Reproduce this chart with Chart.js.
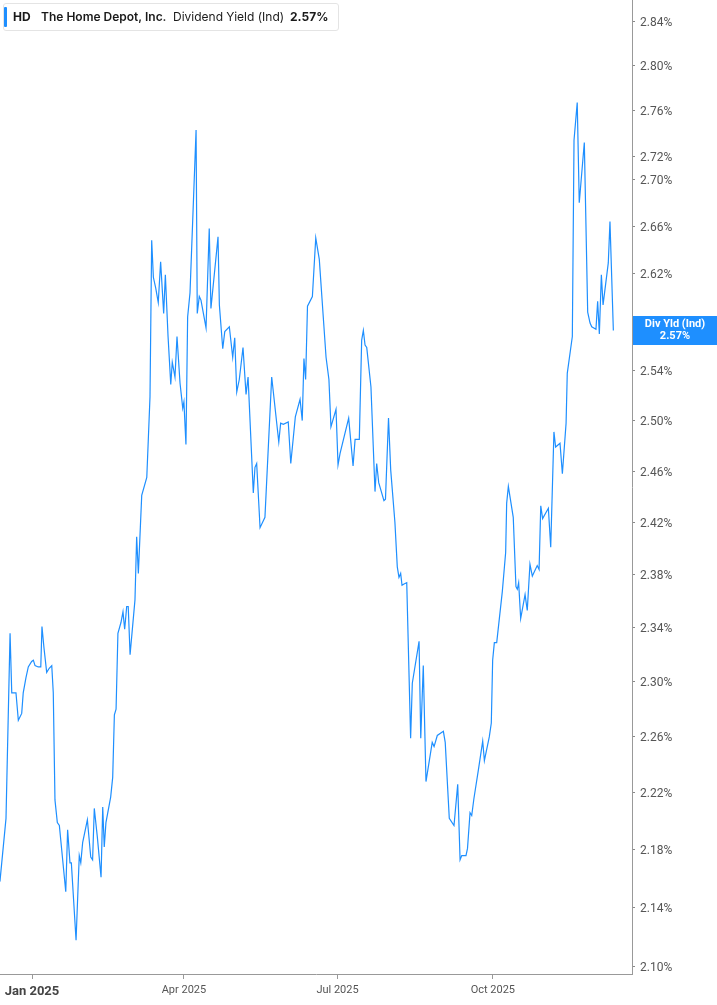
<!DOCTYPE html>
<html>
<head>
<meta charset="utf-8">
<script src="https://cdn.jsdelivr.net/npm/chart.js@4.4.1/dist/chart.umd.min.js"></script>
<style>
  html, body { margin: 0; padding: 0; background: #fff; }
  #wrap { position: relative; width: 717px; height: 1005px; }
  #hdr { position: absolute; left: 3px; top: 3px; width: 334px; height: 26px; border: 1px solid #e4e4e4; border-radius: 3px; background: #fff; font-family: Inter, "Noto Sans", sans-serif; font-size: 12px; color: #1a1a1a; }
  #hdr .bar { position: absolute; left: 0px; top: 3px; width: 3px; height: 20px; background: #1E8FFF; border-radius: 1px; }
  #hdr span { position: absolute; top: 5px; white-space: nowrap; line-height: 16px; }
</style>
</head>
<body>
<div id="wrap">
  <canvas id="c" width="717" height="1005"></canvas>
  <div id="hdr">
    <div class="bar"></div>
    <span style="left:9px;font-weight:700">HD</span>
    <span style="left:37px;font-weight:600">The Home Depot, Inc.</span>
    <span style="left:169px;font-weight:400">Dividend Yield (Ind)</span>
    <span style="left:286px;font-weight:700">2.57%</span>
  </div>
</div>
<script>
// Day offsets from 1 Jan 2025
const dayOffsets = [
  -19.0,-15.4,-13.0,-12.0,-9.5,-8.1,-6.1,-5.2,-3.6,-2.2,
  -0.2,0.8,1.8,3.7,5.2,5.9,7.1,8.7,10.2,11.7,
  12.6,13.6,15.0,16.2,20.0,21.1,22.5,23.3,26.1,28.0,
  28.9,30.0,32.8,34.8,35.9,36.9,38.7,40.9,41.9,42.8,
  43.8,46.6,47.8,48.8,49.8,50.9,52.7,53.9,54.9,56.1,
  57.0,58.1,61.0,62.0,63.0,65.0,68.0,68.9,69.9,70.9,
  71.9,73.3,74.8,76.2,78.0,79.0,80.6,82.2,83.1,84.7,
  85.9,87.7,89.3,90.0,91.2,92.2,93.6,97.2,97.9,99.1,
  100.1,103.1,105.0,106.0,110.2,111.0,113.0,114.2,116.9,118.9,
  120.1,121.3,122.8,125.0,126.8,128.0,131.1,132.1,133.1,135.1,
  138.0,142.0,146.2,147.3,148.9,151.8,153.3,156.0,158.8,160.1,
  161.1,162.1,163.2,166.1,168.1,170.2,172.6,174.2,175.9,177.1,
  180.1,181.3,182.5,187.6,190.2,191.4,193.9,195.3,196.3,197.3,
  198.3,200.8,203.2,204.2,205.4,208.5,209.4,211.2,212.5,215.0,
  216.4,217.4,218.4,219.2,220.4,222.0,224.3,225.3,229.3,230.3,
  231.8,233.4,237.1,238.2,240.1,243.7,244.8,247.2,250.0,252.2,
  253.6,254.6,257.1,258.0,259.5,260.5,261.8,264.4,
  267.0,268.0,270.9,272.1,272.9,273.9,275.3,
  278.6,280.6,281.2,282.2,285.1,286.7,287.5,
  288.3,289.5,292.1,293.4,295.0,296.4,299.3,300.4,301.4,302.5,
  305.9,307.3,309.2,310.2,312.8,314.2,316.4,317.1,320.1,321.1,
  323.0,324.2,327.2,329.2,330.6,331.6,334.1,335.1,336.1,337.3,
  338.3,341.4,342.4,344.4
];
// Dividend yield (%) values
const yieldValues = [
  2.158,2.202,2.336,2.292,2.292,2.272,2.277,2.292,2.303,2.311,
  2.315,2.316,2.312,2.311,2.311,2.341,2.325,2.307,2.310,2.312,
  2.292,2.215,2.199,2.197,2.151,2.194,2.171,2.171,2.118,2.176,
  2.171,2.185,2.201,2.175,2.173,2.209,2.189,2.161,2.210,2.182,
  2.199,2.217,2.231,2.276,2.280,2.336,2.344,2.352,2.339,2.356,
  2.356,2.320,2.361,2.409,2.381,2.441,2.455,2.485,2.519,2.648,
  2.617,2.608,2.596,2.630,2.587,2.619,2.568,2.529,2.547,2.535,
  2.568,2.530,2.510,2.515,2.481,2.584,2.604,2.743,2.587,2.601,
  2.598,2.575,2.658,2.591,2.651,2.594,2.558,2.572,2.576,2.551,
  2.567,2.523,2.533,2.559,2.521,2.535,2.443,2.463,2.466,2.416,
  2.424,2.535,2.483,2.498,2.497,2.499,2.466,2.503,2.517,2.500,
  2.550,2.533,2.593,2.601,2.650,2.632,2.583,2.551,2.533,2.495,
  2.509,2.465,2.474,2.502,2.464,2.485,2.485,2.565,2.573,2.561,
  2.559,2.527,2.444,2.466,2.451,2.437,2.438,2.502,2.461,2.420,
  2.386,2.378,2.381,2.372,2.373,2.374,2.259,2.299,2.330,2.259,
  2.312,2.228,2.256,2.253,2.261,2.264,2.256,2.202,2.197,2.226,
  2.173,2.176,2.176,2.181,2.206,2.204,2.216,2.236,
  2.257,2.243,2.260,2.270,2.316,2.329,2.329,
  2.367,2.397,2.435,2.448,2.424,2.371,2.369,
  2.374,2.347,2.365,2.353,2.388,2.379,2.387,2.384,2.433,2.423,
  2.431,2.401,2.491,2.479,2.482,2.458,2.498,2.538,2.568,2.734,
  2.767,2.680,2.732,2.588,2.579,2.576,2.574,2.597,2.570,2.619,
  2.594,2.629,2.664,2.573
];
const xTickDays = [0, 90, 181, 273];
const xTickLabels = ['Jan 2025', 'Apr 2025', 'Jul 2025', 'Oct 2025'];
const yTickValues = [2.10,2.14,2.18,2.22,2.26,2.30,2.34,2.38,2.42,2.46,2.50,2.54,2.58,2.62,2.66,2.70,2.72,2.76,2.80,2.84];
const lastLabelTitle = 'Div Yld (Ind)';
const lineColor = '#1E8FFF';

const n = Math.min(dayOffsets.length, yieldValues.length);
const points = [];
for (let i = 0; i < n; i++) points.push({ x: dayOffsets[i], y: yieldValues[i] });
const lastValue = yieldValues[n - 1];

const priceTag = {
  id: 'priceTag',
  afterDraw(chart) {
    const ctx = chart.ctx;
    const ys = chart.scales.y;
    const y = ys.getPixelForValue(lastValue);
    const x0 = ys.left + 1;
    const w = chart.width - x0;
    ctx.save();
    ctx.fillStyle = lineColor;
    ctx.fillRect(x0, Math.round(y - 14.5), w, 29);
    ctx.fillStyle = '#fff';
    ctx.textAlign = 'center';
    ctx.textBaseline = 'middle';
    ctx.font = 'bold 11px Roboto, "Liberation Sans", sans-serif';
    ctx.fillText(lastLabelTitle, x0 + w / 2, y - 6);
    ctx.fillText(lastValue.toFixed(2) + '%', x0 + w / 2, y + 6);
    ctx.restore();
  }
};

new Chart(document.getElementById('c'), {
  type: 'line',
  data: {
    datasets: [{
      data: points,
      borderColor: lineColor,
      borderWidth: 1.2,
      pointRadius: 0,
      tension: 0,
      fill: false
    }]
  },
  options: {
    responsive: false,
    animation: false,
    devicePixelRatio: 1,
    layout: { padding: 0 },
    plugins: { legend: { display: false }, tooltip: { enabled: false } },
    scales: {
      x: {
        type: 'linear',
        position: 'bottom',
        min: -18.96,
        max: 355.45,
        afterBuildTicks: s => { s.ticks = xTickDays.map(v => ({ value: v })); },
        afterFit: s => { s.height = 31; s.paddingLeft = 0; s.paddingRight = 0; },
        grid: { display: true, drawOnChartArea: false, tickLength: 5, color: '#999' },
        border: { display: true, color: '#999', width: 1 },
        ticks: {
          autoSkip: false,
          maxRotation: 0,
          padding: 5,
          color: ctx => (ctx.tick && ctx.tick.value === 0) ? '#444' : '#555',
          font: ctx => (ctx.tick && ctx.tick.value === 0)
            ? { family: 'Roboto, "Liberation Sans", sans-serif', size: 13, weight: 'bold' }
            : { family: 'Roboto, "Liberation Sans", sans-serif', size: 11 },
          callback: v => xTickLabels[xTickDays.indexOf(v)] || ''
        }
      },
      y: {
        type: 'logarithmic',
        position: 'right',
        min: 2.0953,
        max: 2.8591,
        bounds: 'data',
        afterBuildTicks: s => { s.ticks = yTickValues.map(v => ({ value: v })); },
        afterFit: s => { s.width = 85; s.paddingTop = 0; s.paddingBottom = 0; },
        grid: { display: true, drawOnChartArea: false, tickLength: 3, color: '#888' },
        border: { display: true, color: '#999', width: 1 },
        ticks: {
          autoSkip: false,
          padding: 5,
          labelOffset: 1.5,
          color: '#555',
          font: { family: 'Roboto, "Liberation Sans", sans-serif', size: 12 },
          callback: v => Number(v).toFixed(2) + '%'
        }
      }
    }
  },
  plugins: [priceTag]
});
</script>
</body>
</html>
